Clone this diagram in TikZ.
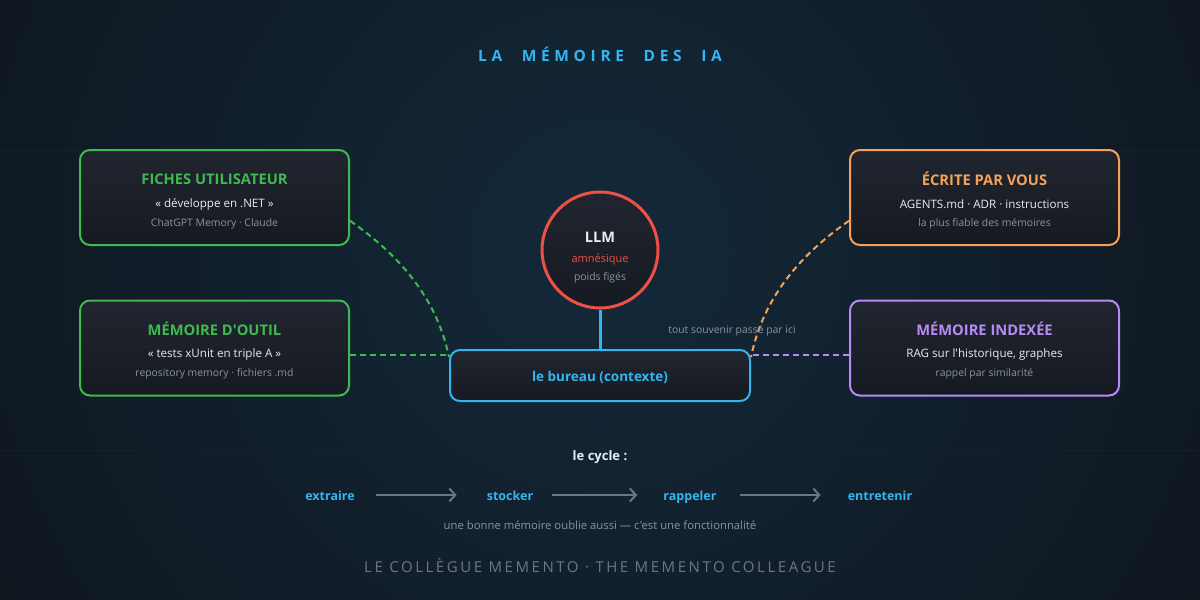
\documentclass[tikz,border=0pt]{standalone}
\usepackage{fontspec}
\setmainfont{Open Sans}[Ligatures=TeXOff]
\newfontfamily\titlefont{Open Sans}[LetterSpace=30,Ligatures=TeXOff]
\newfontfamily\footfont{Open Sans}[LetterSpace=17,Ligatures=TeXOff]
\usetikzlibrary{arrows.meta,calc}
\definecolor{bgout}{HTML}{0D1117}
\definecolor{bgin}{HTML}{14293A}
\definecolor{cardtop}{HTML}{20252F}
\definecolor{cardbot}{HTML}{151A22}
\definecolor{cgreen}{HTML}{3FB950}
\definecolor{corange}{HTML}{F4A259}
\definecolor{cpurple}{HTML}{B88AF5}
\definecolor{cblue}{HTML}{34B4F0}
\definecolor{cred}{HTML}{EC5046}
\definecolor{ctext}{HTML}{E6EDF3}
\definecolor{cgray}{HTML}{8B949E}
\definecolor{cfoot}{HTML}{6E7681}
\definecolor{carrow}{HTML}{6E7681}
\definecolor{cgrid}{HTML}{1A2530}
\tikzset{
  card/.style={draw=#1, line width=2pt, rounded corners=10pt, top color=cardtop, bottom color=cardbot,
    minimum width=269pt, minimum height=95pt, inner sep=0pt},
  cardtitle/.style={text=#1, font=\bfseries\fontsize{14.7}{16}\selectfont, inner sep=0pt},
  cardline/.style={text=ctext, font=\fontsize{11.6}{13}\selectfont, inner sep=0pt},
  cardsub/.style={text=cgray, font=\fontsize{10.4}{12}\selectfont, inner sep=0pt},
  link/.style={draw=#1, line width=2pt, dash pattern=on 6pt off 4pt},
  cycword/.style={text=cblue, font=\bfseries\fontsize{12.5}{14}\selectfont, inner sep=0pt, anchor=base},
  cycarrow/.style={draw=carrow, line width=2pt, -{Straight Barb[length=6pt,width=13pt,line width=2pt]}},
}
\begin{document}
\begin{tikzpicture}[x=1pt,y=-1pt]
\useasboundingbox (0,0) rectangle (1200,600);
% background
\fill[bgout] (0,0) rectangle (1200,600);
\begin{scope}
\clip (0,0) rectangle (1200,600);
\shade[inner color=bgin, outer color=bgout] (600,250) circle (900);
\end{scope}
\draw[cgrid, line width=1pt, opacity=0.6] (0,150) -- (1200,150) (0,450) -- (1200,450);

% title
\node[text=cblue, font=\titlefont\bfseries\fontsize{15.5}{18}\selectfont] (title) at (600,54) {LA\hspace{11pt} MÉMOIRE\hspace{11pt} DES\hspace{11pt} IA};

% cards
\node[card=cgreen] (fiches) at (214.5,197.5) {};
\node[cardtitle=cgreen] (fichesT) at (214.5,179) {FICHES UTILISATEUR};
\node[cardline] (fichesL) at (214.5,204) {« développe en .NET »};
\node[cardsub] (fichesS) at (214.5,224) {ChatGPT Memory · Claude};

\node[card=cgreen] (outil) at (214.5,348) {};
\node[cardtitle=cgreen] (outilT) at (214.5,329) {MÉMOIRE D'OUTIL};
\node[cardline] (outilL) at (214.5,354) {« tests xUnit en triple A »};
\node[cardsub] (outilS) at (214.5,374) {repository memory · fichiers .md};

\node[card=corange] (ecrite) at (984.5,197.5) {};
\node[cardtitle=corange] (ecriteT) at (984.5,179) {ÉCRITE PAR VOUS};
\node[cardline] (ecriteL) at (984.5,204) {AGENTS.md · ADR · instructions};
\node[cardsub] (ecriteS) at (984.5,224) {la plus fiable des mémoires};

\node[card=cpurple] (index) at (984.5,348) {};
\node[cardtitle=cpurple] (indexT) at (984.5,329) {MÉMOIRE INDEXÉE};
\node[cardline] (indexL) at (984.5,354) {RAG sur l'historique, graphes};
\node[cardsub] (indexS) at (984.5,374) {rappel par similarité};

% LLM
\node[circle, draw=cred, line width=3pt, top color=cardtop, bottom color=cardbot, minimum size=116pt, inner sep=0pt] (llm) at (600,250) {};
\node[text=ctext, font=\bfseries\fontsize{14.5}{16}\selectfont, inner sep=0pt] (llmT) at (600,237) {LLM};
\node[text=cred, font=\fontsize{11}{13}\selectfont, inner sep=0pt] (llmA) at (600,260) {amnésique};
\node[cardsub] (llmS) at (600,278) {poids figés};

% bureau
\node[draw=cblue, line width=2pt, rounded corners=10pt, top color=cardtop, bottom color=cardbot,
  minimum width=300pt, minimum height=51pt, inner sep=0pt] (bureau) at (600,375.5) {};
\node[text=cblue, font=\bfseries\fontsize{13.5}{16}\selectfont, inner sep=0pt] (bureauT) at (600,377) {le bureau (contexte)};

\draw[cblue, line width=3pt] (llm.south) -- (bureau.north);

% links
\draw[link=cgreen] ($(fiches.north east)!0.74!(fiches.south east)$) .. controls +(56,39) and +(-11,-53) .. ([yshift=-8pt]bureau.north west);
\draw[link=cgreen] ([yshift=-7pt]outil.east) -- ([yshift=-7pt]outil.east -| bureau.west);
\draw[link=corange] ($(ecrite.north west)!0.74!(ecrite.south west)$) .. controls +(-56,39) and +(11,-53) .. ([yshift=-8pt]bureau.north east);
\draw[link=cpurple] ([yshift=-7pt]index.west) -- ([yshift=-7pt]index.west -| bureau.east);

\node[cardsub] (souvenir) at (732,331) {tout souvenir passé par ici};

% cycle
\node[text=ctext, font=\bfseries\fontsize{13}{15}\selectfont, inner sep=0pt] (cycle) at (600,457) {le cycle :};
\node[cycword] (c1) at (330,500) {extraire};
\node[cycword] (c2) at (510,500) {stocker};
\node[cycword] (c3) at (690,500) {rappeler};
\node[cycword] (c4) at (880,500) {entretenir};
\draw[cycarrow] ($(c1.base east)+(21,-5)$) -- ($(c2.base west)+(-30,-5)$);
\draw[cycarrow] ($(c2.base east)+(19,-5)$) -- ($(c3.base west)+(-26,-5)$);
\draw[cycarrow] ($(c3.base east)+(23,-5)$) -- ($(c4.base west)+(-27,-5)$);
\node[cardsub, font=\fontsize{11.3}{13}\selectfont] (note) at (600,525) {une bonne mémoire oublie aussi — c'est une fonctionnalité};

% footer
\node[text=cfoot, font=\footfont\fontsize{15}{17}\selectfont, inner sep=0pt] (footer) at (600,566) {LE COLLÈGUE MEMENTO · THE MEMENTO COLLEAGUE};
\end{tikzpicture}
\end{document}
